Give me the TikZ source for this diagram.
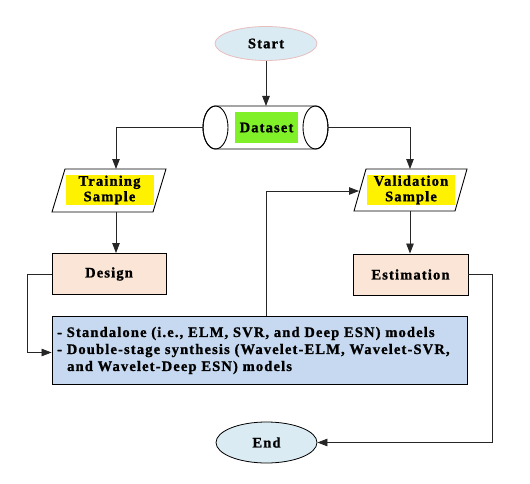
\documentclass[tikz,border=0pt]{standalone}
\usepackage{fontspec}
\setmainfont{Liberation Serif}[LetterSpace=8, BoldFont={Liberation Serif Bold}, BoldFeatures={FakeBold=1.2}]
\usetikzlibrary{arrows.meta,shapes.geometric,calc}
\definecolor{startfill}{RGB}{218,235,243}
\definecolor{startline}{RGB}{232,190,190}
\definecolor{dsgreen}{RGB}{128,240,40}
\definecolor{peach}{RGB}{251,229,214}
\definecolor{panelblue}{RGB}{198,217,240}
\begin{document}
\begin{tikzpicture}[x=1pt,y=-1pt,
  every node/.style={font=\fontsize{14.5}{17}\selectfont\bfseries},
  conn/.style={draw=black!85, line width=0.8pt},
  arr/.style={conn, -{Triangle[length=10pt,width=7.5pt]}},
  term/.style={ellipse, minimum width=102pt, minimum height=34pt, fill=startfill, line width=0.8pt, inner sep=0pt},
  procbox/.style={rectangle, draw=black, line width=0.9pt, fill=peach, minimum width=114pt, minimum height=41pt, inner sep=0pt},
  ylabel/.style={fill=yellow, minimum width=88pt, minimum height=30pt, inner sep=0pt, align=center, font=\fontsize{14.5}{15.5}\selectfont\bfseries},
  shapeline/.style={draw=black, line width=0.9pt}]
\useasboundingbox (0,0) rectangle (530,484);
% Start
\node[term, draw=startline] (start) at (266,43.5) {Start};
% Dataset cylinder
\path[shapeline, fill=white] (215.5,106) -- (315.5,106) arc[start angle=90, end angle=-90, x radius=12.5pt, y radius=21.5pt] -- (215.5,149) arc[start angle=270, end angle=90, x radius=12.5pt, y radius=21.5pt] -- cycle;
\draw[shapeline] (215.5,127.5) ellipse[x radius=12.5pt, y radius=21.5pt];
\draw[shapeline] (315.5,127.5) ellipse[x radius=12.5pt, y radius=21.5pt];
\node[fill=dsgreen, minimum width=63pt, minimum height=31pt, inner sep=0pt] (data) at (266.5,127.5) {Dataset};
\coordinate (dtop) at (266,106);
\coordinate (dleft) at (203,127.5);
\coordinate (dright) at (328,127.5);
% Training parallelogram
\path[shapeline, fill=white] (52,212) -- (65,169) -- (166,169) -- (153,212) -- cycle;
\node[ylabel] (train) at (109.5,190) {Training\\Sample};
\coordinate (ttop) at (116,169);
\coordinate (tbot) at (116,212);
% Validation parallelogram
\path[shapeline, fill=white] (354,211) -- (366,169) -- (467,169) -- (455,211) -- cycle;
\node[ylabel] (valid) at (411,190) {Validation\\Sample};
\coordinate (vtop) at (410,169);
\coordinate (vbot) at (410,211);
\coordinate (vleft) at (359,191);
% Design / Estimation
\node[procbox] (design) at (109,274) {Design};
\node[procbox, minimum width=115pt] (estim) at (410.5,274.5) {Estimation};
% Panel
\node[rectangle, draw=black, line width=0.9pt, fill=panelblue, minimum width=415pt, minimum height=68pt, inner sep=0pt] (panel) at (259.5,350) {};
\node[anchor=west, align=left, inner sep=0pt, font=\fontsize{14.5}{17}\selectfont\bfseries] (ptext) at (57,350.5) {- Standalone (i.e., ELM, SVR, and Deep ESN) models\\- Double-stage synthesis (Wavelet-ELM, Wavelet-SVR,\\\hspace*{10pt}and Wavelet-Deep ESN) models};
% End
\node[term, draw=black, minimum height=41pt, minimum width=101pt] (end) at (266.5,442.5) {End};
% connectors
\draw[arr] (start.south) -- (dtop);
\draw[arr] (dleft) -| (ttop);
\draw[arr] (dright) -| (vtop);
\draw[arr] (tbot) -- (design.north -| tbot);
\draw[arr] (vbot) -- (estim.north -| vbot);
\coordinate (dl) at (27,274);
\draw[arr] (design.west) -- (dl) |- (panel.west |- 0,352.5);
\draw[arr] (panel.north -| 266,0) |- (vleft);
\coordinate (er) at (492.5,274);
\draw[arr] (estim.east |- er) -- (er) |- (end.east);
\end{tikzpicture}
\end{document}
